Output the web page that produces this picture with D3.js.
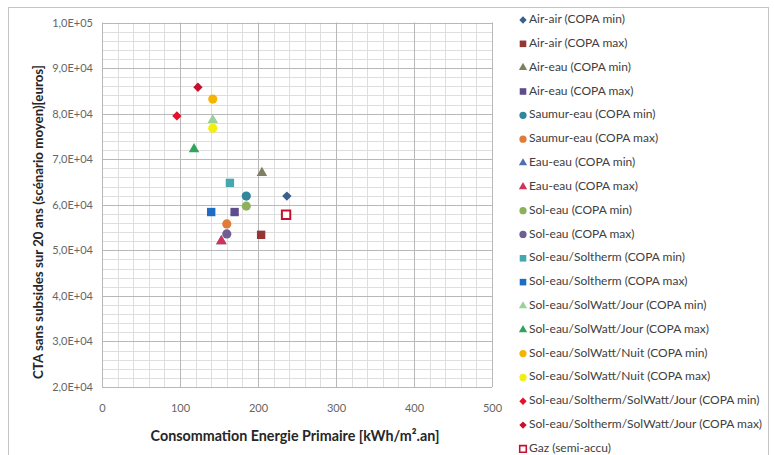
<!DOCTYPE html>
<html>
<head>
<meta charset="utf-8">
<script src="https://cdn.jsdelivr.net/npm/d3@7/dist/d3.min.js"></script>
<style>
  html, body { margin: 0; padding: 0; background: #fff; }
  svg { display: block; font-family: Lato, "Open Sans", sans-serif; }
</style>
</head>
<body>
<svg id="chart" width="774" height="455"></svg>
<script>
// Series names, shown in the legend in this order
const seriesNames = [
  "Air-air (COPA min)",
  "Air-air (COPA max)",
  "Air-eau (COPA min)",
  "Air-eau (COPA max)",
  "Saumur-eau (COPA min)",
  "Saumur-eau (COPA max)",
  "Eau-eau (COPA min)",
  "Eau-eau (COPA max)",
  "Sol-eau (COPA min)",
  "Sol-eau (COPA max)",
  "Sol-eau/Soltherm (COPA min)",
  "Sol-eau/Soltherm (COPA max)",
  "Sol-eau/SolWatt/Jour (COPA min)",
  "Sol-eau/SolWatt/Jour (COPA max)",
  "Sol-eau/SolWatt/Nuit (COPA min)",
  "Sol-eau/SolWatt/Nuit (COPA max)",
  "Sol-eau/Soltherm/SolWatt/Jour (COPA min)",
  "Sol-eau/Soltherm/SolWatt/Jour (COPA max)",
  "Gaz (semi-accu)"
];

// Primary energy consumption [kWh/m².an]
const energyValues = [237, 204, 205, 170, 185, 160, 153, 153, 185, 160, 164, 140, 142, 118, 142, 142, 96, 123, 236];

// 20-year total cost without subsidies [euros]
const costValues = [61900, 53400, 67000, 58400, 61900, 55800, 52000, 52000, 59700, 53600, 64800, 58400, 78600, 72200, 83200, 76800, 79500, 85800, 57800];

// Marker shape per series
const markerShapes = [
  "diamond", "square", "triangle", "square", "circle", "circle", "triangle", "triangle",
  "circle", "circle", "square", "square", "triangle", "triangle", "circle", "circle",
  "diamond", "diamond", "hollowSquare"
];

// Marker colour per series
const markerColors = [
  "#3B5E8C", "#943634", "#7F7F62", "#5F4C8C", "#31859C", "#E07C3A", "#4F6FB0", "#D0325A",
  "#8DB05A", "#6F5E8F", "#45A8AE", "#1F6DC2", "#9BD29B", "#2EA55A", "#F4B400", "#F2EE10",
  "#E8102A", "#C8102E", "#C8102E"
];

// Axis ticks
const xTicks = [0, 100, 200, 300, 400, 500];
const yTicks = [20000, 30000, 40000, 50000, 60000, 70000, 80000, 90000, 100000];
const yTickLabels = ["2,0E+04", "3,0E+04", "4,0E+04", "5,0E+04", "6,0E+04", "7,0E+04", "8,0E+04", "9,0E+04", "1,0E+05"];

const xTitle = "Consommation Energie Primaire [kWh/m².an]";
const yTitle = "CTA sans subsides sur 20 ans (scénario moyen)[euros]";

const svg = d3.select("#chart");

// Outer chart frame
svg.append("rect")
  .attr("x", 8.5).attr("y", 7.5)
  .attr("width", 760).attr("height", 470)
  .attr("fill", "#fff")
  .attr("stroke", "#C4C4C4")
  .attr("stroke-width", 1);

const x = d3.scaleLinear().domain([0, 500]).range([102, 492]);
const y = d3.scaleLinear().domain([20000, 100000]).range([387, 22.5]);

// Minor grid
const grid = svg.append("g");
const minorX = d3.range(0, 501, 20).filter(v => v % 100 !== 0);
const minorY = d3.range(20000, 100001, 2000).filter(v => v % 10000 !== 0);
grid.selectAll(".mx").data(minorX).enter().append("line")
  .attr("x1", d => Math.round(x(d)) + 0.5).attr("x2", d => Math.round(x(d)) + 0.5)
  .attr("y1", y(100000)).attr("y2", y(20000))
  .attr("stroke", "#DEDEDE").attr("stroke-width", 1);
grid.selectAll(".my").data(minorY).enter().append("line")
  .attr("y1", d => Math.round(y(d)) + 0.5).attr("y2", d => Math.round(y(d)) + 0.5)
  .attr("x1", x(0)).attr("x2", x(500))
  .attr("stroke", "#DEDEDE").attr("stroke-width", 1);

// Major grid
grid.selectAll(".Mx").data(xTicks).enter().append("line")
  .attr("x1", d => Math.round(x(d)) + 0.5).attr("x2", d => Math.round(x(d)) + 0.5)
  .attr("y1", y(100000)).attr("y2", y(20000))
  .attr("stroke", "#B8B8B8").attr("stroke-width", 1);
grid.selectAll(".My").data(yTicks).enter().append("line")
  .attr("y1", d => Math.round(y(d)) + 0.5).attr("y2", d => Math.round(y(d)) + 0.5)
  .attr("x1", x(0)).attr("x2", x(500))
  .attr("stroke", "#B8B8B8").attr("stroke-width", 1);

// Axes (labels only, Excel-style)
const xAxis = d3.axisBottom(x).tickValues(xTicks).tickSize(0).tickPadding(0).tickFormat(d3.format("d"));
const gx = svg.append("g").attr("transform", "translate(0,408)").call(xAxis);
gx.select(".domain").remove();
gx.selectAll("text").attr("fill", "#666").attr("font-size", 11).attr("dy", "0.35em")
  .attr("font-family", "Lato, sans-serif");

const yAxis = d3.axisLeft(y).tickValues(yTicks).tickSize(0).tickPadding(0)
  .tickFormat((d, i) => yTickLabels[i]);
const gy = svg.append("g").attr("transform", "translate(93,0)").call(yAxis);
gy.select(".domain").remove();
gy.selectAll("text").attr("fill", "#666").attr("font-size", 11)
  .attr("font-family", "Lato, sans-serif");

// Axis titles
svg.append("text")
  .attr("x", 295).attr("y", 437)
  .attr("text-anchor", "middle").attr("dominant-baseline", "middle")
  .attr("font-size", 14.3).attr("font-weight", "bold").attr("fill", "#262626")
  .text(xTitle);
svg.append("text")
  .attr("transform", "translate(40,222) rotate(-90)")
  .attr("text-anchor", "middle").attr("dominant-baseline", "middle")
  .attr("font-size", 13.3).attr("font-weight", "bold").attr("fill", "#262626")
  .text(yTitle);

// Marker path generator
function markerPath(shape, big) {
  const k = big ? 1 : 0.62;
  switch (shape) {
    case "diamond": return d3.symbol(d3.symbolSquare, 44 * k)();
    case "square":
    case "hollowSquare": return d3.symbol(d3.symbolSquare, 70 * k)();
    case "triangle": return d3.symbol(d3.symbolTriangle, 48 * k)();
    default: return d3.symbol(d3.symbolCircle, 66 * k)();
  }
}

function drawMarker(g, i, big) {
  const shape = markerShapes[i];
  const p = g.append("path").attr("d", markerPath(shape, big));
  if (shape === "diamond") p.attr("transform", "rotate(45)");
  if (shape === "hollowSquare") {
    p.attr("fill", "#fff").attr("stroke", markerColors[i]).attr("stroke-width", big ? 2 : 1.6);
  } else {
    p.attr("fill", markerColors[i]);
  }
}

// Points
const pts = svg.append("g");
seriesNames.forEach((name, i) => {
  const g = pts.append("g")
    .attr("transform", `translate(${x(energyValues[i])},${y(costValues[i])})`);
  drawMarker(g, i, true);
});

// Legend
const legend = svg.append("g");
seriesNames.forEach((name, i) => {
  const row = legend.append("g").attr("transform", `translate(523,${20 + i * 23.83})`);
  drawMarker(row, i, false);
  row.append("text")
    .attr("x", 6).attr("y", 0).attr("dominant-baseline", "middle")
    .attr("font-size", 12).attr("fill", "#404040")
    .text(name);
});
</script>
</body>
</html>
